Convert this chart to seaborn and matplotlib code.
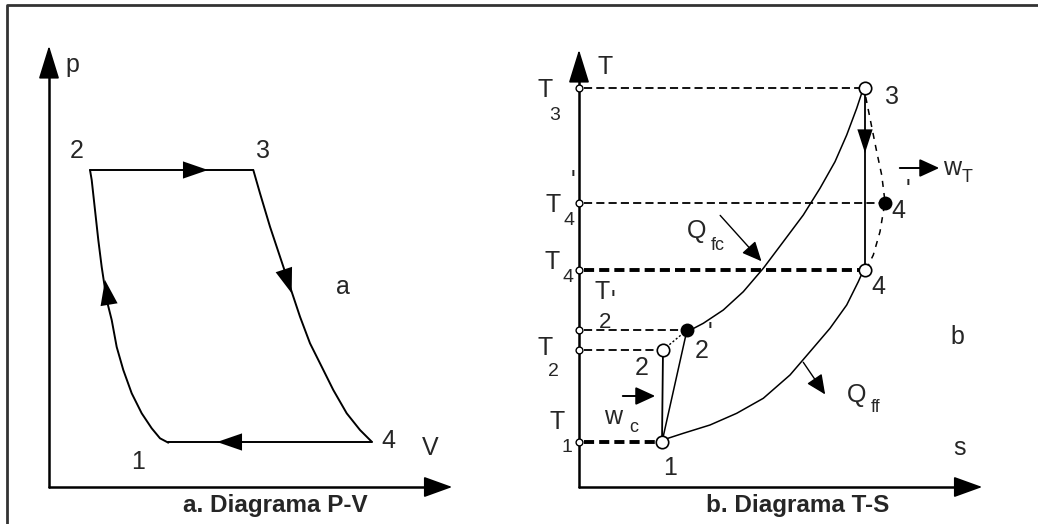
import matplotlib
matplotlib.use('Agg')
import matplotlib.pyplot as plt
import seaborn as sns
import pandas as pd
from matplotlib.lines import Line2D

sns.set_style('white')
plt.rcParams['font.family'] = ['Liberation Sans', 'DejaVu Sans']

# ---- P-V diagram (schematic units) ----
pv_states = ['1', '2', '3', '4']
pv_V = [11.9, 4.1, 20.4, 32.3]
pv_p = [4.5, 31.7, 31.7, 4.5]
# compression curve 1 -> 2
pv_comp_V = [11.93, 11.1, 10.27, 9.27, 8.27, 7.43, 6.77, 6.27, 5.77, 5.27, 4.93, 4.6, 4.27, 4.1]
pv_comp_p = [4.43, 4.87, 5.87, 7.37, 9.37, 11.7, 14.0, 16.7, 18.7, 22.0, 24.7, 27.7, 30.7, 31.7]
# expansion curve 3 -> 4
pv_exp_V = [20.43, 21.1, 22.1, 23.1, 24.1, 25.1, 26.1, 27.27, 28.43, 29.77, 31.1, 32.27]
pv_exp_p = [31.7, 29.37, 26.03, 23.03, 20.03, 17.03, 14.37, 12.03, 9.7, 7.37, 5.7, 4.53]

# ---- T-S diagram (schematic units) ----
ts_levels = ['3', "4'", '4', "2'", '2', '1']
ts_T = [39.9, 28.4, 21.7, 15.7, 13.7, 4.5]
ts_s = [28.6, 30.6, 28.6, 10.8, 8.4, 8.3]
# high pressure isobar 2' -> 3
ts_hi_s = [10.83, 12.43, 14.43, 16.43, 18.43, 20.43, 22.43, 24.1, 25.6, 26.77, 27.77, 28.43, 28.6]
ts_hi_T = [15.53, 16.37, 17.7, 19.53, 21.87, 24.53, 27.2, 29.87, 32.53, 35.2, 37.87, 39.87, 40.4]
# low pressure isobar 1 -> 4
ts_lo_s = [8.37, 10.43, 13.1, 15.77, 18.43, 21.1, 23.1, 25.1, 26.77, 27.93, 28.6]
ts_lo_T = [4.7, 5.37, 6.2, 7.37, 8.87, 11.2, 13.53, 15.87, 18.2, 20.53, 22.03]
# real expansion 3 -> 4' -> 4
ts_real_s = [28.43, 29.1, 29.77, 30.27, 30.6, 30.1, 29.43, 28.77]
ts_real_T = [40.2, 36.87, 33.53, 31.2, 28.53, 25.53, 23.2, 21.87]

fig = plt.figure(figsize=(10.38, 5.24), dpi=100)
W, H = 1038, 524


def px_axes(x0, y0, x1, y1):
    # axes placed from a pixel box: (x0, y0) bottom-left, (x1, y1) top-right, image px
    return fig.add_axes([x0 / W, (H - y0) / H, (x1 - x0) / W, (y0 - y1) / H])


def axis_arrows(ax, xmax, ymax):
    ax.plot([0, xmax - 2.5], [0, 0], color='black', lw=1.8, clip_on=False)
    ax.plot([0, 0], [0, ymax - 3], color='black', lw=1.8, clip_on=False)
    ax.annotate('', xy=(xmax, 0), xytext=(xmax - 2.6, 0),
                arrowprops=dict(arrowstyle='-|>,head_length=1.8,head_width=0.65',
                                color='black', lw=1.2), annotation_clip=False)
    ax.annotate('', xy=(0, ymax), xytext=(0, ymax - 3),
                arrowprops=dict(arrowstyle='-|>,head_length=2.1,head_width=0.65',
                                color='black', lw=1.2), annotation_clip=False)


def head(ax, tip, base, hl=1.8, hw=0.62):
    ax.annotate('', xy=tip, xytext=base,
                arrowprops=dict(arrowstyle='-|>,head_length=%s,head_width=%s' % (hl, hw),
                                color='black', lw=0.01, shrinkA=0, shrinkB=0),
                annotation_clip=False)


def curve(ax, xs, ys, **kw):
    sns.lineplot(x=xs, y=ys, sort=False, estimator=None, color='black', ax=ax, **kw)


fs = 18
sub = 14

# ================= left panel =================
ax1 = px_axes(49, 487, 455, 43)
ax1.set_xlim(0, 40.6)
ax1.set_ylim(0, 44.4)
ax1.axis('off')
axis_arrows(ax1, 40.6, 44.4)

curve(ax1, pv_comp_V, pv_comp_p, lw=1.4)
curve(ax1, pv_exp_V, pv_exp_p, lw=1.4)
curve(ax1, [pv_V[1], pv_V[2]], [pv_p[1], pv_p[2]], lw=1.4)
curve(ax1, [pv_V[3], pv_V[0]], [pv_p[3], pv_p[0]], lw=1.4)

head(ax1, (15.9, 31.7), (13.6, 31.7))
head(ax1, (16.8, 4.5), (19.1, 4.5))
head(ax1, (24.27, 19.37), (23.5, 21.7))
head(ax1, (5.6, 20.7), (5.93, 18.7))

ax1.text(2.3, 42.2, 'p', fontsize=fs, ha='center', va='center')
ax1.text(2.8, 33.6, '2', fontsize=fs, ha='center', va='center')
ax1.text(21.4, 33.6, '3', fontsize=fs, ha='center', va='center')
ax1.text(33.9, 4.6, '4', fontsize=fs, ha='center', va='center')
ax1.text(8.9, 2.5, '1', fontsize=fs, ha='center', va='center')
ax1.text(38.1, 3.9, 'V', fontsize=fs, ha='center', va='center')
ax1.text(29.4, 20.0, 'a', fontsize=fs, ha='center', va='center')
ax1.text(22.6, -1.85, 'a. Diagrama P-V', fontsize=17.5, fontweight='bold',
         ha='center', va='center')

# ================= right panel =================
ax2 = px_axes(579, 487, 985, 47)
ax2.set_xlim(0, 40.6)
ax2.set_ylim(0, 44.0)
ax2.axis('off')
axis_arrows(ax2, 40.6, 44.0)

thick = {'4', '1'}
for name, t, s in zip(ts_levels, ts_T, ts_s):
    if name in thick:
        ax2.plot([0.5, s], [t, t], color='black', ls=(0, (2.6, 1.3)), lw=2.8, clip_on=False)
    else:
        ax2.plot([0.5, s], [t, t], color='black', ls=(0, (4.5, 2.3)), lw=1.3, clip_on=False)

curve(ax2, ts_hi_s, ts_hi_T, lw=1.1)
curve(ax2, ts_lo_s, ts_lo_T, lw=1.1)
curve(ax2, ts_real_s, ts_real_T, lw=1.1, linestyle=(0, (4, 4)))
# 1 -> 2 isentropic, 1 -> 2' real, 2 -> 2'
curve(ax2, [ts_s[5], ts_s[4]], [ts_T[5], ts_T[4]], lw=1.3)
curve(ax2, [ts_s[5], ts_s[3]], [ts_T[5], ts_T[3]], lw=1.1)
curve(ax2, [ts_s[4], ts_s[3]], [ts_T[4], ts_T[3]], lw=1.0, linestyle=(0, (1.5, 1.5)))
# 3 -> 4 isentropic
curve(ax2, [ts_s[0], ts_s[2]], [ts_T[0], ts_T[2]], lw=1.3)
head(ax2, (28.6, 33.4), (28.6, 35.6), hl=1.7, hw=0.55)

# state markers
pts = pd.DataFrame({'s': ts_s, 'T': ts_T, 'state': ts_levels})
pts['filled'] = pts['state'].str.contains("'")
sns.scatterplot(data=pts[~pts['filled']], x='s', y='T', s=80, marker='o',
                facecolor='white', edgecolor='black', linewidth=1.2, ax=ax2, zorder=5, clip_on=False)
sns.scatterplot(data=pts[pts['filled']], x='s', y='T', s=100, marker='o',
                color='black', linewidth=0, ax=ax2, zorder=5, clip_on=False)
# axis level markers
sns.scatterplot(x=[0] * len(ts_T), y=ts_T, s=24, marker='o', facecolor='white',
                edgecolor='black', linewidth=1.0, ax=ax2, zorder=5, clip_on=False)

# heat / work arrows
arw = dict(arrowstyle='-|>,head_length=1.2,head_width=0.55', color='black')
ax2.annotate('', xy=(18.43, 22.37), xytext=(13.93, 27.37),
             arrowprops=dict(arw, lw=1.0), annotation_clip=False)
ax2.annotate('', xy=(24.77, 9.03), xytext=(22.27, 12.7),
             arrowprops=dict(arw, lw=1.0), annotation_clip=False)
ax2.annotate('', xy=(36.3, 31.9), xytext=(31.8, 31.9),
             arrowprops=dict(arw, lw=1.4), annotation_clip=False)
ax2.annotate('', xy=(7.9, 9.1), xytext=(4.1, 9.1),
             arrowprops=dict(arw, lw=1.4), annotation_clip=False)

ax2.text(2.6, 42.0, 'T', fontsize=fs, ha='center', va='center')
# T-axis level labels
ax2.text(-3.4, 39.7, 'T', fontsize=fs, ha='center', va='center')
ax2.text(-2.4, 37.2, '3', fontsize=sub, ha='center', va='center')
ax2.text(-2.6, 28.2, 'T', fontsize=fs, ha='center', va='center')
ax2.text(-1.0, 26.7, '4', fontsize=sub, ha='center', va='center')
ax2.text(-0.6, 30.6, "'", fontsize=fs, ha='center', va='center')
ax2.text(-2.7, 22.5, 'T', fontsize=fs, ha='center', va='center')
ax2.text(-1.1, 21.0, '4', fontsize=sub, ha='center', va='center')
ax2.text(2.3, 19.5, 'T', fontsize=fs, ha='center', va='center')
ax2.text(3.4, 18.6, "'", fontsize=fs, ha='center', va='center')
ax2.text(2.6, 16.5, '2', fontsize=sub + 2, ha='center', va='center')
ax2.text(-3.4, 13.9, 'T', fontsize=fs, ha='center', va='center')
ax2.text(-2.6, 11.5, '2', fontsize=sub, ha='center', va='center')
ax2.text(-2.2, 6.5, 'T', fontsize=fs, ha='center', va='center')
ax2.text(-1.2, 4.0, '1', fontsize=sub, ha='center', va='center')

# state labels
ax2.text(31.3, 39.0, '3', fontsize=fs, ha='center', va='center')
ax2.text(31.9, 27.6, '4', fontsize=fs, ha='center', va='center')
ax2.text(32.9, 29.7, "'", fontsize=fs, ha='center', va='center')
ax2.text(29.9, 20.0, '4', fontsize=fs, ha='center', va='center')
ax2.text(12.3, 13.6, '2', fontsize=fs, ha='center', va='center')
ax2.text(13.1, 15.4, "'", fontsize=fs, ha='center', va='center')
ax2.text(6.3, 11.9, '2', fontsize=fs, ha='center', va='center')
ax2.text(9.1, 1.9, '1', fontsize=fs, ha='center', va='center')
ax2.text(37.8, 15.0, 'b', fontsize=fs, ha='center', va='center')
ax2.text(38.1, 3.9, 's', fontsize=fs, ha='center', va='center')
ax2.text(11.8, 25.6, 'Q', fontsize=fs, ha='center', va='center')
ax2.text(13.9, 24.2, 'fc', fontsize=sub - 1, ha='center', va='center')
ax2.text(27.8, 9.2, 'Q', fontsize=fs, ha='center', va='center')
ax2.text(29.7, 8.0, 'ff', fontsize=sub - 1, ha='center', va='center')
ax2.text(36.4, 31.9, 'w', fontsize=fs, ha='left', va='center')
ax2.text(38.3, 31.0, 'T', fontsize=sub - 1, ha='left', va='center')
ax2.text(3.4, 7.0, 'w', fontsize=fs, ha='center', va='center')
ax2.text(5.5, 5.9, 'c', fontsize=sub - 1, ha='center', va='center')
ax2.text(21.9, -1.85, 'b. Diagrama T-S', fontsize=17.5, fontweight='bold',
         ha='center', va='center')

# outer frame (top and left edges visible)
fig.add_artist(Line2D([7 / W, 7 / W, 1.0], [0.0, 1 - 5 / H, 1 - 5 / H],
                      transform=fig.transFigure, color='#333333', lw=2.0))

fig.savefig('out.png', dpi=100)
